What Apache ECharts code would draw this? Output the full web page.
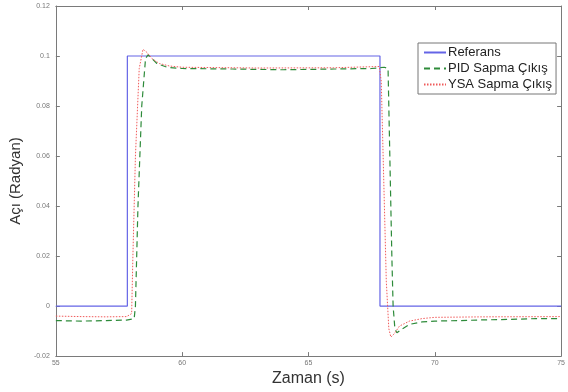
<!DOCTYPE html>
<html><head><meta charset="utf-8">
<script src="https://cdn.jsdelivr.net/npm/echarts@6/dist/echarts.min.js"></script>
<style>html,body{margin:0;padding:0;background:#fff}#c{width:568px;height:392px}</style>
</head><body><div id="c"></div>
<script>
const xTicks = [55, 60, 65, 70, 75];
const yTicks = [-0.02, 0, 0.02, 0.04, 0.06, 0.08, 0.1, 0.12];

const refT = [55, 57.83, 57.83, 67.83, 67.83, 75];
const refV = [0, 0, 0.1, 0.1, 0, 0];

const pidT = [55, 56, 57, 57.8, 58.1, 58.15, 58.25, 58.4, 58.55, 58.65, 58.8, 59.0, 59.4, 60, 62, 64, 66, 67.5, 68.0, 68.15, 68.22, 68.3, 68.35, 68.42, 68.5, 68.65, 69, 69.5, 70, 71, 72, 73, 74, 75];
const pidV = [-0.0058, -0.006, -0.0058, -0.0056, -0.005, 0.0, 0.04, 0.08, 0.099, 0.1005, 0.099, 0.097, 0.0955, 0.095, 0.0948, 0.0945, 0.0948, 0.095, 0.0955, 0.095, 0.06, 0.02, 0.0, -0.009, -0.0107, -0.0095, -0.0073, -0.0063, -0.006, -0.0058, -0.0055, -0.0053, -0.005, -0.005];

const ysaT = [55, 56, 57, 57.8, 58.0, 58.05, 58.15, 58.3, 58.45, 58.6, 58.8, 59.1, 59.5, 60, 63, 66, 67.8, 67.88, 67.98, 68.08, 68.18, 68.26, 68.4, 68.6, 69, 69.5, 70, 72, 75];
const ysaV = [-0.004, -0.0042, -0.0043, -0.0042, -0.003, 0.02, 0.06, 0.095, 0.1027, 0.1015, 0.099, 0.097, 0.096, 0.0955, 0.0952, 0.0953, 0.0958, 0.09, 0.05, 0.01, -0.009, -0.0124, -0.011, -0.008, -0.006, -0.005, -0.0045, -0.0043, -0.0042];

const names = ['Referans', 'PID Sapma Çıkış', 'YSA Sapma Çıkış'];
const pairs = (t, v) => t.map((x, i) => [x, v[i]]);

const axisGrey = '#7a7a7a';
const chart = echarts.init(document.getElementById('c'));
const baseX = {
  type: 'value', min: xTicks[0], max: xTicks[xTicks.length - 1], interval: 5,
  axisLine: { onZero: false, lineStyle: { color: axisGrey, width: 1 } },
  axisTick: { inside: true, length: 4, lineStyle: { color: axisGrey } },
  splitLine: { show: false }
};
const baseY = {
  type: 'value', min: yTicks[0], max: yTicks[yTicks.length - 1], interval: 0.02,
  axisLine: { onZero: false, lineStyle: { color: axisGrey, width: 1 } },
  axisTick: { inside: true, length: 4, lineStyle: { color: axisGrey } },
  splitLine: { show: false }
};
const fmt = v => {
  if (Math.abs(v) < 1e-9) return '0';
  return String(+v.toFixed(2));
};
chart.setOption({
  animation: false,
  textStyle: { fontFamily: 'Liberation Sans, Arial, sans-serif' },
  grid: { left: 55, right: 5, top: 6, bottom: 34 },
  xAxis: [
    Object.assign({}, baseX, {
      position: 'bottom',
      axisLabel: { fontSize: 7, color: '#777', margin: 3 },
      name: 'Zaman (s)', nameLocation: 'middle', nameGap: 14,
      nameTextStyle: { fontSize: 16, color: '#333' }
    }),
    Object.assign({}, baseX, { position: 'top', axisLabel: { show: false } })
  ],
  yAxis: [
    Object.assign({}, baseY, {
      position: 'left',
      axisLabel: { fontSize: 7, color: '#777', margin: 6, formatter: fmt },
      name: 'Açı (Radyan)', nameLocation: 'middle', nameGap: 26,
      nameTextStyle: { fontSize: 15, color: '#333' }
    }),
    Object.assign({}, baseY, { position: 'right', axisLabel: { show: false } })
  ],
  legend: {
    orient: 'vertical', left: 418, top: 43,
    backgroundColor: '#fff', borderColor: '#777', borderWidth: 1, borderRadius: 0,
    padding: [3, 4, 3, 5], itemGap: 3, itemWidth: 22, itemHeight: 12,
    itemStyle: { color: 'rgba(0,0,0,0)', borderWidth: 0 },
    textStyle: { fontSize: 13, color: '#222', padding: [0, 0, 0, -3] },
    data: names
  },
  series: [
    { name: names[0], type: 'line', symbol: 'none', data: pairs(refT, refV),
      lineStyle: { color: '#6464e6', width: 1.2 }, itemStyle: { color: '#6464e6' } },
    { name: names[1], type: 'line', symbol: 'none', data: pairs(pidT, pidV),
      lineStyle: { color: '#2e8b3a', width: 1.2, type: [6, 4] }, itemStyle: { color: '#2e8b3a' } },
    { name: names[2], type: 'line', symbol: 'none', data: pairs(ysaT, ysaV),
      lineStyle: { color: '#f05a5a', width: 1, type: [1.5, 1.5] }, itemStyle: { color: '#f05a5a' } }
  ]
});
</script>
</body></html>
